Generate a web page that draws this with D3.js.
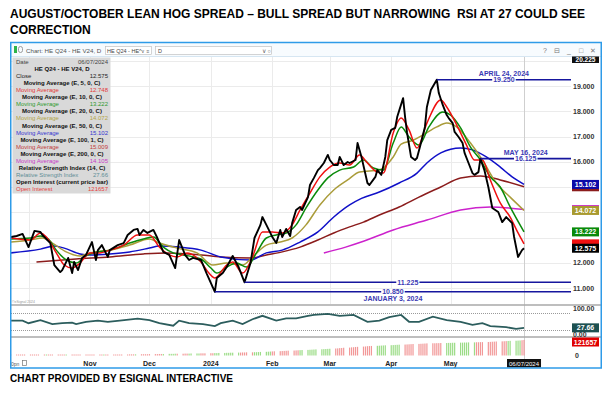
<!DOCTYPE html>
<html>
<head>
<meta charset="utf-8">
<script src="https://cdn.jsdelivr.net/npm/d3@7/dist/d3.min.js"></script>
<style>
  body { margin: 0; background: #fff; }
  svg { display: block; font-family: "Liberation Sans", Arial, sans-serif; }
  .title { white-space: pre; }
</style>
</head>
<body>
<svg id="chart"></svg>
<script>
// values (HE Q24 - HE V24 spread, daily)
const titleLines = [
  "AUGUST/OCTOBER LEAN HOG SPREAD \u2013 BULL SPREAD BUT NARROWING  RSI AT 27 COULD SEE",
  "CORRECTION"
];
const caption = "CHART PROVIDED BY ESIGNAL INTERACTIVE";

const closeSeries = [
  ["2023-09-22",13.02],["2023-09-25",13.06],["2023-09-28",13.14],["2023-10-01",12.62],["2023-10-04",13.26],
  ["2023-10-07",13.22],["2023-10-08",13.10],["2023-10-12",12.78],["2023-10-14",11.91],["2023-10-17",11.63],
  ["2023-10-18",11.71],["2023-10-21",12.19],["2023-10-23",11.59],["2023-10-24",12.03],["2023-10-26",11.71],
  ["2023-10-28",12.19],["2023-10-30",12.31],["2023-11-02",12.82],["2023-11-04",12.11],["2023-11-05",12.50],
  ["2023-11-07",12.70],["2023-11-10",12.23],["2023-11-11",12.50],["2023-11-15",12.70],["2023-11-18",12.78],
  ["2023-11-20",13.10],["2023-11-23",13.30],["2023-11-25",13.34],["2023-11-26",13.10],["2023-11-28",13.30],
  ["2023-11-30",13.18],["2023-12-03",13.30],["2023-12-05",12.98],["2023-12-08",12.43],["2023-12-11",12.31],
  ["2023-12-14",11.79],["2023-12-16",12.90],["2023-12-19",12.31],["2023-12-21",12.11],["2023-12-23",12.19],
  ["2023-12-27",12.11],["2023-12-30",11.55],["2024-01-03",10.85],["2024-01-04",11.40],["2024-01-07",11.59],
  ["2024-01-09",11.83],["2024-01-12",12.27],["2024-01-15",11.83],["2024-01-18",11.225],["2024-01-21",11.99],
  ["2024-01-23",12.98],["2024-01-26",13.50],["2024-01-27",13.81],["2024-01-29",13.50],["2024-01-31",13.18],
  ["2024-02-01",13.02],["2024-02-03",12.78],["2024-02-05",13.30],["2024-02-06",13.02],["2024-02-08",13.34],
  ["2024-02-10",13.06],["2024-02-11",13.57],["2024-02-13",14.09],["2024-02-15",14.21],["2024-02-16",14.09],
  ["2024-02-19",14.60],["2024-02-20",15.08],["2024-02-22",15.36],["2024-02-24",15.67],["2024-02-25",15.75],
  ["2024-02-27",15.95],["2024-02-29",16.27],["2024-03-01",16.07],["2024-03-03",15.87],["2024-03-05",15.87],
  ["2024-03-06",16.19],["2024-03-08",15.87],["2024-03-10",15.99],["2024-03-11",15.95],["2024-03-14",16.07],
  ["2024-03-15",16.74],["2024-03-17",16.19],["2024-03-20",15.16],["2024-03-21",15.08],["2024-03-24",15.40],
  ["2024-03-25",15.67],["2024-03-27",15.48],["2024-03-29",16.19],["2024-03-30",16.86],["2024-04-01",17.26],
  ["2024-04-03",17.34],["2024-04-04",17.77],["2024-04-07",18.52],["2024-04-08",17.77],["2024-04-09",17.14],
  ["2024-04-11",16.19],["2024-04-13",16.07],["2024-04-14",16.15],["2024-04-16",16.74],["2024-04-18",17.38],
  ["2024-04-19",18.17],["2024-04-21",18.84],["2024-04-24",19.25],["2024-04-25",18.72],["2024-04-27",18.25],
  ["2024-04-29",17.85],["2024-04-30",17.73],["2024-05-02",17.53],["2024-05-03",17.18],["2024-05-05",16.98],
  ["2024-05-07",16.74],["2024-05-08",16.35],["2024-05-10",15.95],["2024-05-12",15.55],["2024-05-13",15.48],
  ["2024-05-15",15.59],["2024-05-16",16.125],["2024-05-18",15.67],["2024-05-20",15.00],["2024-05-22",14.17],
  ["2024-05-25",14.01],["2024-05-27",13.61],["2024-05-29",13.81],["2024-06-01",13.57],["2024-06-02",13.02],
  ["2024-06-04",12.23],["2024-06-06",12.50],["2024-06-07",12.575]
];

const ema5 = [
  ["2023-09-22",12.98],["2023-10-02",12.90],["2023-10-07",13.18],["2023-10-10",13.02],["2023-10-15",12.39],
  ["2023-10-19",11.91],["2023-10-23",11.79],["2023-10-27",11.99],["2023-11-01",12.39],["2023-11-06",12.39],
  ["2023-11-11",12.50],["2023-11-18",12.70],["2023-11-25",13.10],["2023-12-01",13.10],["2023-12-06",12.62],
  ["2023-12-11",12.31],["2023-12-15",12.23],["2023-12-20",12.39],["2023-12-27",12.03],["2023-12-31",11.59],
  ["2024-01-03",11.40],["2024-01-09",11.91],["2024-01-12",12.03],["2024-01-17",11.59],["2024-01-22",12.23],
  ["2024-01-27",13.22],["2024-02-01",13.22],["2024-02-06",13.18],["2024-02-11",13.50],["2024-02-15",14.09],
  ["2024-02-20",14.76],["2024-02-25",15.40],["2024-03-01",15.79],["2024-03-06",15.95],["2024-03-11",15.87],
  ["2024-03-16",16.27],["2024-03-20",15.95],["2024-03-25",15.59],["2024-03-28",15.55],["2024-04-02",17.14],
  ["2024-04-06",17.73],["2024-04-10",17.26],["2024-04-14",16.54],["2024-04-19",17.53],["2024-04-26",18.45],
  ["2024-04-29",18.17],["2024-05-04",17.46],["2024-05-09",16.66],["2024-05-13",16.07],["2024-05-17",16.07],
  ["2024-05-21",15.28],["2024-05-26",14.37],["2024-05-31",13.81],["2024-06-04",13.18],["2024-06-07",12.748]
];

const ema10 = [
  ["2023-09-22",12.94],["2023-10-02",12.98],["2023-10-07",13.06],["2023-10-11",12.94],["2023-10-15",12.50],
  ["2023-10-20",12.11],["2023-10-25",11.99],["2023-10-30",12.27],["2023-11-05",12.43],["2023-11-11",12.50],
  ["2023-11-21",12.78],["2023-11-28",12.94],["2023-12-03",13.02],["2023-12-08",12.62],["2023-12-13",12.39],
  ["2023-12-18",12.31],["2023-12-27",12.15],["2024-01-01",11.79],["2024-01-04",11.59],["2024-01-09",11.83],
  ["2024-01-14",11.99],["2024-01-19",11.83],["2024-01-24",12.39],["2024-01-29",12.98],["2024-02-03",13.10],
  ["2024-02-08",13.18],["2024-02-13",13.50],["2024-02-18",14.17],["2024-02-24",14.88],["2024-02-29",15.36],
  ["2024-03-06",15.67],["2024-03-13",15.79],["2024-03-18",16.07],["2024-03-23",15.75],["2024-03-28",15.67],
  ["2024-04-02",16.74],["2024-04-06",17.38],["2024-04-10",16.98],["2024-04-15",16.66],["2024-04-20",17.38],
  ["2024-04-27",17.97],["2024-05-01",17.85],["2024-05-06",17.34],["2024-05-11",16.58],["2024-05-16",16.07],
  ["2024-05-21",15.40],["2024-05-26",15.00],["2024-05-31",14.21],["2024-06-07",13.222]
];

const ema20 = [
  ["2023-09-22",12.82],["2023-10-02",12.90],["2023-10-08",12.98],["2023-10-13",12.78],["2023-10-20",12.43],
  ["2023-10-27",12.27],["2023-11-01",12.39],["2023-11-11",12.50],["2023-11-21",12.70],["2023-12-01",12.94],
  ["2023-12-06",12.78],["2023-12-15",12.58],["2023-12-25",12.39],["2024-01-02",11.91],["2024-01-09",11.99],
  ["2024-01-17",11.91],["2024-01-22",12.23],["2024-01-29",12.70],["2024-02-05",12.82],["2024-02-11",12.98],
  ["2024-02-18",13.50],["2024-02-25",14.29],["2024-03-03",14.88],["2024-03-10",15.28],["2024-03-16",15.59],
  ["2024-03-26",15.67],["2024-04-02",16.19],["2024-04-06",16.70],["2024-04-12",16.85],["2024-04-17",17.06],
  ["2024-04-24",17.38],["2024-04-29",17.53],["2024-05-04",17.38],["2024-05-11",16.74],["2024-05-17",16.07],
  ["2024-05-24",15.16],["2024-05-31",14.60],["2024-06-07",14.072]
];

const ema50 = [
  ["2023-09-22",12.39],["2023-10-07",12.54],["2023-10-14",12.66],["2023-10-19",12.58],["2023-10-27",12.35],
  ["2023-11-01",12.31],["2023-11-11",12.35],["2023-11-21",12.43],["2023-12-01",12.58],["2023-12-06",12.66],
  ["2023-12-16",12.62],["2023-12-27",12.50],["2024-01-06",12.23],["2024-01-21",12.11],["2024-01-29",12.39],
  ["2024-02-06",12.50],["2024-02-15",12.82],["2024-02-24",13.22],["2024-03-03",13.81],["2024-03-11",14.29],
  ["2024-03-17",14.55],["2024-03-26",14.80],["2024-04-05",15.16],["2024-04-14",15.55],["2024-04-19",15.95],
  ["2024-04-26",16.35],["2024-05-06",16.54],["2024-05-12",16.47],["2024-05-19",16.19],["2024-05-26",15.79],
  ["2024-06-01",15.40],["2024-06-07",15.102]
];

const ema100 = [
  ["2023-10-05",12.03],["2023-10-25",12.15],["2023-11-11",12.23],["2023-11-28",12.35],["2023-12-10",12.39],
  ["2023-12-27",12.31],["2024-01-06",12.23],["2024-01-21",12.19],["2024-01-29",12.31],["2024-02-06",12.43],
  ["2024-02-15",12.62],["2024-02-24",12.90],["2024-03-03",13.18],["2024-03-11",13.42],["2024-03-18",13.61],
  ["2024-03-26",13.89],["2024-04-05",14.21],["2024-04-15",14.60],["2024-04-26",15.00],["2024-05-06",15.36],
  ["2024-05-16",15.44],["2024-05-26",15.28],["2024-06-07",15.009]
];

const ema200 = [
  ["2024-02-27",12.39],["2024-03-09",12.62],["2024-03-18",12.85],["2024-04-02",13.30],["2024-04-19",13.69],
  ["2024-05-06",14.09],["2024-05-21",14.21],["2024-06-07",14.105]
];

const rsi14 = [
  ["2023-09-22",53],["2023-09-28",53],["2023-10-01",44],["2023-10-07",55],["2023-10-13",41],["2023-10-18",44],
  ["2023-10-23",46],["2023-10-25",41],["2023-10-30",49],["2023-11-05",53],["2023-11-10",49],["2023-11-16",53],
  ["2023-11-25",60],["2023-12-01",55],["2023-12-06",44],["2023-12-13",35],["2023-12-16",53],["2023-12-21",44],
  ["2023-12-28",41],["2024-01-03",34],["2024-01-06",44],["2024-01-12",53],["2024-01-17",41],["2024-01-22",58],
  ["2024-01-27",70],["2024-02-03",53],["2024-02-08",61],["2024-02-13",61],["2024-02-19",70],["2024-02-22",73],
  ["2024-02-29",77],["2024-03-06",70],["2024-03-13",73],["2024-03-20",49],["2024-03-26",53],["2024-03-31",65],
  ["2024-04-06",73],["2024-04-10",49],["2024-04-15",49],["2024-04-22",67],["2024-04-29",55],["2024-05-06",49],
  ["2024-05-12",38],["2024-05-17",44],["2024-05-21",34],["2024-05-29",30],["2024-06-03",24],["2024-06-07",27.66]
];

// open interest in thousands, one value per trading day (Sep 22 2023 .. Jun 7 2024)
const openInterest = [
  2,2,2,2,2,2,
  2,2,2,3,3,3,3,3,3,3,4,4,4,4,4,4,5,5,5,5,5,5,
  6,6,6,6,6,7,7,7,7,7,8,8,8,8,9,9,9,9,10,10,10,10,
  11,11,11,12,12,12,13,13,13,14,14,14,15,15,15,16,16,16,17,17,17,
  18,18,19,19,20,20,21,21,22,22,23,23,24,24,25,25,26,26,27,28,29,30,31,
  32,33,34,35,36,37,38,39,40,41,42,43,44,45,46,47,48,49,50,51,52,
  53,55,56,58,59,61,62,64,65,67,68,70,71,73,74,75,76,77,78,79,80,
  81,82,83,84,85,86,87,88,89,90,91,92,93,94,95,96,96,97,97,98,98,99,
  99,100,100,101,101,102,102,103,103,104,104,105,105,106,107,108,109,110,111,112,113,114,115,
  116,117,118,120,121.657
];
const oiColors =
  "rrrrrr" + "rrrrrrgrrrrrrrgrrrrrrr" + "rrrrrgrrrrrrrrrrrgrrrr" + "rrrrrgggggrrrrggggrrr" +
  "rrgggggggggrrrrrggggggg" + "rrrrrrrrrrggggggggggg" + "grrrrrrrrrrrrrrrggggg" +
  "gggggrrrrrrrrrrrrrrrgg" + "gggggggggrrrrrrrrrrrrgg" + "gggrr";

const priceTicks = [11, 12, 13, 14, 15, 16, 17, 18, 19];
const gridMonths = ["2023-10-01","2023-11-01","2023-12-01","2024-01-01","2024-02-01","2024-03-01","2024-04-01","2024-05-01"];
const monthLabels = [["2023-11-01","Nov"],["2023-12-01","Dec"],["2024-01-01","2024"],["2024-02-01","Feb"],
  ["2024-03-01","Mar"],["2024-04-01","Apr"],["2024-05-01","May"]];

const levels = [
  { date: "2024-04-24", value: 19.25, label: "19.250", note: "APRIL 24, 2024", side: -1 },
  { date: "2024-05-16", value: 16.125, label: "16.125", note: "MAY 16, 2024", side: -1 },
  { date: "2024-01-18", value: 11.225, label: "11.225", note: null, side: 0 },
  { date: "2024-01-03", value: 10.85, label: "10.850", note: "JANUARY 3, 2024", side: 1 }
];

// name, value, colour ; null value = bold heading row
const legendRows = [
  ["Date", "06/07/2024", "#444"],
  ["HE Q24 - HE V24, D", null],
  ["Close", "12.575", "#222"],
  ["Moving Average (E, 5, 0, C)", null],
  ["Moving Average", "12.748", "#e23a3a"],
  ["Moving Average (E, 10, 0, C)", null],
  ["Moving Average", "13.222", "#2f9a2f"],
  ["Moving Average (E, 20, 0, C)", null],
  ["Moving Average", "14.072", "#b3a647"],
  ["Moving Average (E, 50, 0, C)", null],
  ["Moving Average", "15.102", "#3535d0"],
  ["Moving Average (E, 100, 1, C)", null],
  ["Moving Average", "15.009", "#c23c3c"],
  ["Moving Average (E, 200, 0, C)", null],
  ["Moving Average", "14.105", "#c63ac6"],
  ["Relative Strength Index (14, C)", null],
  ["Relative Strength Index", "27.66", "#5f8e97"],
  ["Open Interest (current price bar)", null],
  ["Open Interest", "121657", "#e64040"]
];

// last values shown as boxes on the price axis; hidden ones sit under the next box
const lastBoxes = [
  [15.009, "#8b1c1c", false], [15.102, "#0a0aa8", true], [14.105, "#cc22cc", false], [14.072, "#a89a2e", true],
  [12.748, "#f01010", false], [13.222, "#0a8a0a", true], [12.575, "#000", true]
];

const W = 609, H = 396;
const parse = d3.timeParse("%Y-%m-%d");
const svg = d3.select("#chart").attr("width", W).attr("height", H);

const plotL = 11, plotR = 571, plotT = 57, plotB = 304;
const x = d3.scaleTime().domain([parse("2023-09-22"), parse("2024-06-30")]).range([10.7, 569.6]);
const y = d3.scaleLinear().domain([11, 19]).range([288, 86]);
const yRsi = d3.scaleLinear().domain([0, 100]).range([335.7, 307.3]);
const yOi = d3.scaleLinear().domain([0, 121.657]).range([355.5, 340]);
const lastDay = parse("2024-06-07");

// title + caption
svg.selectAll("text.title").data(titleLines).enter().append("text")
  .attr("class", "title")
  .attr("x", 10).attr("y", (d, i) => 18 + i * 16)
  .attr("font-size", 12).attr("font-weight", "bold").attr("fill", "#000")
  .text(d => d);
svg.append("text").attr("x", 10).attr("y", 382)
  .attr("font-size", 10).attr("font-weight", "bold").text(caption);

// window title bar
const bar = svg.append("g");
bar.append("rect").attr("x", 10).attr("y", 42).attr("width", 592).attr("height", 15).attr("fill", "#f7fbfe");
bar.append("line").attr("x1", 11).attr("x2", 601).attr("y1", 56.5).attr("y2", 56.5).attr("stroke", "#d6e6f2");
bar.append("rect").attr("x", 14).attr("y", 46).attr("width", 3).attr("height", 7).attr("fill", "#2fb34a");
bar.append("rect").attr("x", 18.5).attr("y", 46.5).attr("width", 4).attr("height", 6).attr("rx", 2)
  .attr("fill", "none").attr("stroke", "#888").attr("stroke-width", 0.8);
bar.append("text").attr("x", 26).attr("y", 53).attr("font-size", 6.2).attr("fill", "#555").text("Chart: HE Q24 - HE V24, D");
bar.append("rect").attr("x", 105.5).attr("y", 46.5).attr("width", 46).attr("height", 8)
  .attr("fill", "#fff").attr("stroke", "#b8b8b8").attr("stroke-width", 0.6);
bar.append("text").attr("x", 107).attr("y", 52.8).attr("font-size", 5.5).attr("fill", "#444").text("HE Q24 - HE^");
bar.append("text").attr("x", 141).attr("y", 52.8).attr("font-size", 5).attr("fill", "#666").text("\u2228 \u2261");
bar.append("rect").attr("x", 155.5).attr("y", 46.5).attr("width", 116).attr("height", 8)
  .attr("fill", "#fff").attr("stroke", "#b8b8b8").attr("stroke-width", 0.6);
bar.append("text").attr("x", 158).attr("y", 52.8).attr("font-size", 5.5).attr("fill", "#444").text("D");
bar.append("text").attr("x", 262).attr("y", 52.8).attr("font-size", 5.5).attr("fill", "#666").text("\u2228  \u25cb");
bar.selectAll("text.ctl").data(["?", "\u229f", "_", "\u25a1", "\u2715"]).enter().append("text")
  .attr("class", "ctl")
  .attr("x", (d, i) => 545 + i * 12).attr("y", 53)
  .attr("font-size", 7).attr("fill", "#777").attr("text-anchor", "middle").text(d => d);

// main panel grid
const grid = svg.append("g").attr("stroke", "#ebebeb").attr("stroke-width", 1);
grid.selectAll("line.h").data(priceTicks.concat([20])).enter().append("line")
  .attr("x1", plotL).attr("x2", plotR)
  .attr("y1", d => Math.round(y(d)) + 0.5).attr("y2", d => Math.round(y(d)) + 0.5);
grid.selectAll("line.v").data(gridMonths).enter().append("line")
  .attr("y1", plotT).attr("y2", plotB)
  .attr("x1", d => Math.round(x(parse(d))) + 0.5).attr("x2", d => Math.round(x(parse(d))) + 0.5);

// cursor line on last bar
svg.append("line").attr("x1", Math.round(x(lastDay)) + 0.5).attr("x2", Math.round(x(lastDay)) + 0.5)
  .attr("y1", plotT).attr("y2", 359).attr("stroke", "#cfcfcf");

// clip
svg.append("clipPath").attr("id", "clipMain").append("rect")
  .attr("x", plotL).attr("y", plotT).attr("width", plotR - plotL).attr("height", plotB - plotT);

const line = d3.line().x(d => x(parse(d[0]))).y(d => y(d[1]));
const smooth = d3.line().x(d => x(parse(d[0]))).y(d => y(d[1])).curve(d3.curveMonotoneX);

const main = svg.append("g").attr("clip-path", "url(#clipMain)");
const maSeries = [
  [ema200, "#cc22cc"],
  [ema100, "#8b1c1c"],
  [ema50, "#1010c8"],
  [ema20, "#aa9c3a"],
  [ema10, "#0a8a0a"],
  [ema5, "#f01010"]
];
maSeries.forEach(([data, color]) => {
  main.append("path").datum(data).attr("d", smooth)
    .attr("fill", "none").attr("stroke", color).attr("stroke-width", 1.5);
});
main.append("path").datum(closeSeries).attr("d", line)
  .attr("fill", "none").attr("stroke", "#000").attr("stroke-width", 1.9)
  .attr("stroke-linejoin", "round");

// support / resistance levels
levels.forEach(lv => {
  const x0 = x(parse(lv.date)), x1 = plotR;
  const yy = y(lv.value);
  const mid = (x0 + x1) / 2;
  svg.append("line").attr("x1", x0).attr("x2", x1).attr("y1", yy).attr("y2", yy)
    .attr("stroke", "#16169e").attr("stroke-width", 1.6);
  const t = svg.append("text").attr("x", mid).attr("y", yy + 2.5)
    .attr("text-anchor", "middle").attr("font-size", 7).attr("font-weight", "bold")
    .attr("fill", "#3a3ab4").text(lv.label);
  const bb = t.node().getBBox();
  svg.insert("rect", () => t.node()).attr("x", bb.x - 1).attr("y", yy - 3).attr("width", bb.width + 2)
    .attr("height", 6).attr("fill", "#fff");
  if (lv.note) {
    svg.append("text").attr("x", mid).attr("y", lv.side < 0 ? yy - 4 : yy + 9.5)
      .attr("text-anchor", "middle").attr("font-size", 7).attr("font-weight", "bold")
      .attr("fill", "#3a3ab4").text(lv.note);
  }
});

svg.append("text").attr("x", 12).attr("y", 303).attr("font-size", 3.5).attr("fill", "#999").text("\u00a9eSignal 2024");

// legend box
const lg = svg.append("g");
lg.append("rect").attr("x", 12.5).attr("y", 57.5).attr("width", 98).attr("height", 136).attr("fill", "#d9d9d9");
legendRows.forEach((r, i) => {
  const yy = 64 + i * 7.06;
  if (r[1] === null) {
    lg.append("text").attr("x", 62).attr("y", yy).attr("text-anchor", "middle")
      .attr("font-size", 6).attr("font-weight", "bold").attr("fill", "#111").text(r[0]);
  } else {
    lg.append("text").attr("x", 16).attr("y", yy).attr("font-size", 6).attr("fill", r[2]).text(r[0]);
    lg.append("text").attr("x", 108).attr("y", yy).attr("text-anchor", "end")
      .attr("font-size", 6).attr("fill", r[2]).text(r[1]);
  }
});

// panel separators
svg.selectAll("line.sep").data([305, 337]).enter().append("line")
  .attr("x1", plotL).attr("x2", 601).attr("y1", d => d).attr("y2", d => d)
  .attr("stroke", "#a9a9a9").attr("stroke-width", 1.5);

// RSI panel
svg.selectAll("line.rsiLvl").data([80, 20]).enter().append("line")
  .attr("x1", plotL).attr("x2", plotR)
  .attr("y1", d => Math.round(yRsi(d)) + 0.5).attr("y2", d => Math.round(yRsi(d)) + 0.5)
  .attr("stroke", "#9a9a9a").attr("stroke-dasharray", "1,1");
svg.append("path").datum(rsi14)
  .attr("d", d3.line().x(d => x(parse(d[0]))).y(d => yRsi(d[1])))
  .attr("fill", "none").attr("stroke", "#2c5d5d").attr("stroke-width", 1.8);

// open interest bars
const tradeDays = d3.timeDay.range(parse("2023-09-22"), d3.timeDay.offset(lastDay, 1))
  .filter(d => d.getDay() % 6 !== 0);
const oiData = openInterest.map((v, i) => ({ d: tradeDays[i], v, c: oiColors[i] })).filter(o => o.d);
svg.selectAll("rect.oi").data(oiData).enter().append("rect")
  .attr("x", o => x(o.d) - 0.6).attr("width", 1.2)
  .attr("y", o => Math.min(yOi(o.v), yOi(0) - 1))
  .attr("height", o => Math.max(yOi(0) - yOi(o.v), 1))
  .attr("fill", o => o.c === "g" ? "#9bdc86" : "#f29898");

// right axis labels (ticks that sit under a value box are covered, as on the original)
const axisTxt = svg.append("g").attr("font-size", 7).attr("font-weight", "bold").attr("fill", "#333");
const freeTicks = priceTicks.filter(t => !lastBoxes.some(b => Math.abs(y(b[0]) - y(t)) < 8));
axisTxt.selectAll("text").data(freeTicks).enter().append("text")
  .attr("x", 573).attr("y", d => y(d) + 2.5).text(d => d3.format(".3f")(d));
axisTxt.append("text").attr("x", 573).attr("y", 311).text("100.00");
axisTxt.append("text").attr("x", 573).attr("y", 337).text("0.00");
axisTxt.append("text").attr("x", 575).attr("y", 358).text("0");

lastBoxes.forEach(([v, c, shown]) => {
  const yy = y(v);
  svg.append("rect").attr("x", 572).attr("y", yy - 4.5).attr("width", 27).attr("height", 9).attr("fill", c);
  if (shown) {
    svg.append("text").attr("x", 585.5).attr("y", yy + 2.5).attr("text-anchor", "middle")
      .attr("font-size", 7).attr("font-weight", "bold").attr("fill", "#fff").text(d3.format(".3f")(v));
  }
});
svg.append("rect").attr("x", 572).attr("y", 56.5).attr("width", 27).attr("height", 6.5).attr("fill", "#111");
svg.append("text").attr("x", 585.5).attr("y", 62).attr("text-anchor", "middle")
  .attr("font-size", 6.5).attr("font-weight", "bold").attr("fill", "#fff").text("20.225");

const rsiLast = rsi14[rsi14.length - 1][1];
svg.append("rect").attr("x", 572).attr("y", yRsi(rsiLast) - 4.5).attr("width", 27).attr("height", 9).attr("fill", "#1d5151");
svg.append("text").attr("x", 585.5).attr("y", yRsi(rsiLast) + 2.5).attr("text-anchor", "middle")
  .attr("font-size", 7).attr("font-weight", "bold").attr("fill", "#fff").text(d3.format(".2f")(rsiLast));

const oiLast = openInterest[openInterest.length - 1];
svg.append("rect").attr("x", 572).attr("y", yOi(oiLast) - 2.5).attr("width", 27).attr("height", 9).attr("fill", "#e00000");
svg.append("text").attr("x", 585.5).attr("y", yOi(oiLast) + 4.5).attr("text-anchor", "middle")
  .attr("font-size", 7).attr("font-weight", "bold").attr("fill", "#fff").text(Math.round(oiLast * 1000));

// time axis labels
svg.selectAll("text.month").data(monthLabels).enter().append("text")
  .attr("x", d => x(parse(d[0]))).attr("y", 366).attr("text-anchor", "middle")
  .attr("font-size", 7).attr("font-weight", "bold").attr("fill", "#222").text(d => d[1]);
svg.append("rect").attr("x", x(lastDay) - 17).attr("y", 359).attr("width", 34).attr("height", 8.5).attr("fill", "#111");
svg.append("text").attr("x", x(lastDay)).attr("y", 365.5).attr("text-anchor", "middle")
  .attr("font-size", 6).attr("fill", "#fff").text(d3.timeFormat("%m/%d/%Y")(lastDay));
svg.append("text").attr("x", 11).attr("y", 366).attr("font-size", 5).attr("fill", "#555").text("0pn");
svg.append("rect").attr("x", 22.5).attr("y", 360.5).attr("width", 4).attr("height", 5)
  .attr("fill", "none").attr("stroke", "#777").attr("stroke-width", 0.7);

// window frame
svg.append("rect").attr("x", 10.75).attr("y", 42.5).attr("width", 590.5).attr("height", 325.5)
  .attr("fill", "none").attr("stroke", "#2e9be8").attr("stroke-width", 1.5);
</script>
</body>
</html>
